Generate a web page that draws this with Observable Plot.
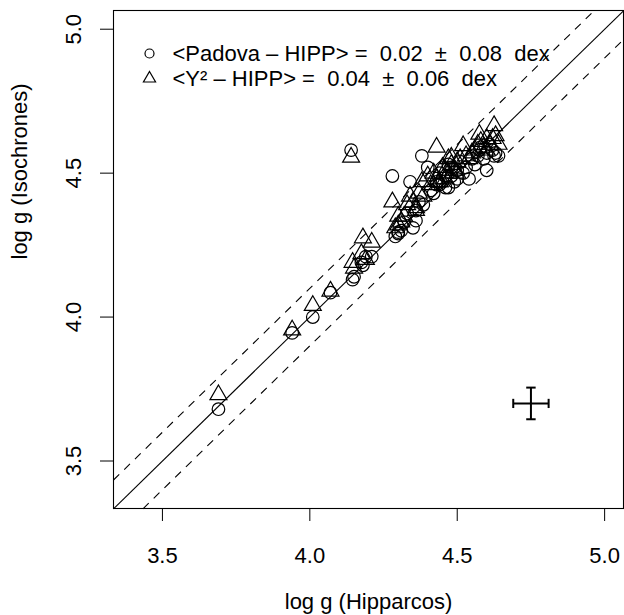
<!DOCTYPE html>
<html><head><meta charset="utf-8">
<script src="https://cdn.jsdelivr.net/npm/d3@7"></script>
<script src="https://cdn.jsdelivr.net/npm/@observablehq/plot@0.6"></script>
<style>body{margin:0;background:#fff}</style>
</head><body><div id="chart"></div>
<script>
// log g from Hipparcos parallaxes (x) and from isochrones (Padova: circles, Y²: triangles)
const hipp   = [3.69, 3.94, 4.01, 4.07, 4.14, 4.145, 4.15, 4.175, 4.18, 4.19, 4.21, 4.28, 4.29, 4.30, 4.31, 4.33, 4.35, 4.36, 4.34, 4.37,
                4.38, 4.40, 4.41, 4.42, 4.43, 4.44, 4.45, 4.46, 4.47, 4.48, 4.48, 4.49, 4.50, 4.50, 4.51, 4.52, 4.53, 4.54, 4.55, 4.56,
                4.57, 4.575, 4.58, 4.59, 4.60, 4.60, 4.61, 4.62, 4.625, 4.63, 4.64, 4.46, 4.47, 4.44, 4.43, 4.385, 4.36, 4.32, 4.30];
const padova = [3.68, 3.945, 4.00, 4.085, 4.58, 4.13, 4.14, 4.19, 4.18, 4.21, 4.21, 4.49, 4.28, 4.295, 4.30, 4.36, 4.31, 4.335, 4.47, 4.40,
                4.56, 4.52, 4.44, 4.43, 4.46, 4.50, 4.47, 4.45, 4.45, 4.49, 4.52, 4.47, 4.51, 4.48, 4.54, 4.50, 4.52, 4.48, 4.55, 4.53,
                4.56, 4.58, 4.59, 4.55, 4.51, 4.57, 4.60, 4.58, 4.56, 4.57, 4.56, 4.49, 4.53, 4.46, 4.47, 4.39, 4.37, 4.33, 4.29];
const y2     = [3.73, 3.955, 4.04, 4.09, 4.555, 4.19, 4.17, 4.22, 4.275, 4.20, 4.26, 4.40, 4.31, 4.35, 4.33, 4.39, 4.40, 4.38, 4.42, 4.43,
                4.47, 4.49, 4.46, 4.50, 4.59, 4.47, 4.52, 4.48, 4.50, 4.555, 4.53, 4.51, 4.54, 4.50, 4.55, 4.595, 4.56, 4.55, 4.57, 4.58,
                4.60, 4.635, 4.61, 4.59, 4.58, 4.62, 4.60, 4.62, 4.665, 4.63, 4.60, 4.51, 4.55, 4.47, 4.48, 4.42, 4.37, 4.35, 4.32];

const xTicks = [3.5, 4.0, 4.5, 5.0];
const yTicks = [3.5, 4.0, 4.5, 5.0];
const xDomain = [3.334, 5.064];
const yDomain = [3.335, 5.065];
const xLabel = "log g (Hipparcos)";
const yLabel = "log g (Isochrones)";
const legendLabels = ["<Padova – HIPP> =  0.02  ±  0.08  dex", "<Y² – HIPP> =  0.04  ±  0.06  dex"];
const legendSymbols = ["circle", "triangle"];
const diagOffsets = [0, 0.1, -0.1];
// typical error bar
const errX = [4.75], errY = [3.70], errHalfX = [0.06], errHalfY = [0.055];
const capHalf = 0.016;

const stars = hipp.map((h, i) => ({hipp: h, padova: padova[i], y2: y2[i]}));
const diag = diagOffsets.map(o => ({o, x1: xDomain[0] + Math.max(0, -o), x2: xDomain[1] - Math.max(0, o)}));
const errs = errX.map((x, i) => ({x, y: errY[i], dx: errHalfX[i], dy: errHalfY[i]}));
const fmt = d3.format(".1f");
const keepSpaces = s => s.replace(/  /g, " \u00a0");

const chart = Plot.plot({
  width: 624, height: 615,
  marginLeft: 113, marginTop: 10, marginRight: 1, marginBottom: 107,
  style: {fontFamily: "'Liberation Sans', Arial, Helvetica, sans-serif", fontSize: "22px", color: "#000", background: "#fff"},
  x: {domain: xDomain},
  y: {domain: yDomain},
  marks: [
    Plot.link(diag.filter(d => d.o === 0), {x1: "x1", x2: "x2", y1: d => d.x1 + d.o, y2: d => d.x2 + d.o, stroke: "#000", strokeWidth: 1.1}),
    Plot.link(diag.filter(d => d.o !== 0), {x1: "x1", x2: "x2", y1: d => d.x1 + d.o, y2: d => d.x2 + d.o, stroke: "#000", strokeWidth: 1.1, strokeDasharray: "8,7"}),
    Plot.dot(stars, {x: "hipp", y: "padova", r: 6.3, symbol: "circle", stroke: "#000", strokeWidth: 1.2, fill: "none"}),
    Plot.dot(stars, {x: "hipp", y: "y2", r: 6.3, symbol: "triangle", stroke: "#000", strokeWidth: 1.2, fill: "none"}),
    Plot.link(errs, {x1: d => d.x - d.dx, x2: d => d.x + d.dx, y1: "y", y2: "y", stroke: "#000", strokeWidth: 2}),
    Plot.link(errs, {x1: "x", x2: "x", y1: d => d.y - d.dy, y2: d => d.y + d.dy, stroke: "#000", strokeWidth: 2}),
    Plot.link(errs.flatMap(d => [d.x - d.dx, d.x + d.dx].map(x => ({x, y: d.y}))), {x1: "x", x2: "x", y1: d => d.y - capHalf, y2: d => d.y + capHalf, stroke: "#000", strokeWidth: 2}),
    Plot.link(errs.flatMap(d => [d.y - d.dy, d.y + d.dy].map(y => ({x: d.x, y}))), {x1: d => d.x - capHalf, x2: d => d.x + capHalf, y1: "y", y2: "y", stroke: "#000", strokeWidth: 2}),
    Plot.frame({stroke: "#000", strokeWidth: 1.1}),
    Plot.axisX(xTicks, {tickSize: 13, tickPadding: 26, tickFormat: fmt, label: null, stroke: "#000"}),
    Plot.axisY(yTicks, {tickSize: 13, tickPadding: 20, tickRotate: -90, tickFormat: fmt, label: null, stroke: "#000"}),
    Plot.text([xLabel], {frameAnchor: "bottom", text: d => d, dy: 93, lineAnchor: "middle", fill: "#000"}),
    Plot.text([yLabel], {frameAnchor: "left", text: d => d, dx: -94, rotate: -90, lineAnchor: "middle", fill: "#000"}),
    ...legendLabels.map((t, i) => Plot.text([keepSpaces(t)], {frameAnchor: "top-left", text: d => d, dx: 59, dy: 43 + 25 * i, textAnchor: "start", lineAnchor: "middle", fill: "#000"})),
    ...legendSymbols.map((s, i) => Plot.dot([s], {frameAnchor: "top-left", symbol: s, dx: 36, dy: 43 + 25 * i, r: 4.5, stroke: "#000", strokeWidth: 1.2, fill: "none"}))
  ]
});
document.getElementById("chart").appendChild(chart);
</script>
</body></html>
